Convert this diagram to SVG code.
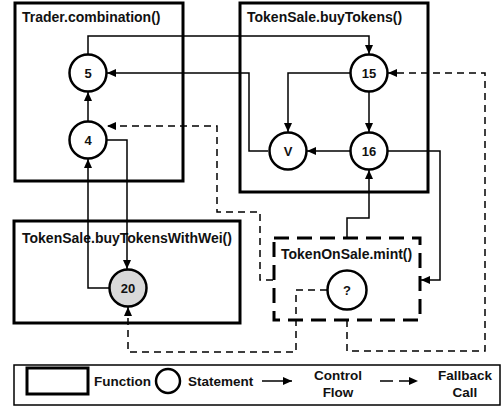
<svg xmlns="http://www.w3.org/2000/svg" width="502" height="408" viewBox="0 0 502 408">
  <defs>
    <marker id="arrow" viewBox="0 0 9 8" refX="9" refY="4" markerWidth="9" markerHeight="8" markerUnits="userSpaceOnUse" orient="auto">
      <path d="M0,0 L9,4 L0,8 Z" fill="#000"/>
    </marker>
    <style>
      .fn { fill: #fff; stroke: #000; stroke-width: 3; }
      .fn-dash { fill: none; stroke: #000; stroke-width: 3; stroke-dasharray: 15 8; }
      .stmt { fill: #fff; stroke: #000; stroke-width: 2.5; }
      .title { font-family: "Liberation Sans", Arial, sans-serif; font-weight: bold; font-size: 14px; fill: #111; }
      .num { font-family: "Liberation Sans", Arial, sans-serif; font-weight: bold; font-size: 13px; fill: #111; text-anchor: middle; dominant-baseline: central; }
      .legend { font-family: "Liberation Sans", Arial, sans-serif; font-weight: bold; font-size: 13.5px; fill: #111; }
      .flow { fill: none; stroke: #000; stroke-width: 1.5; }
      .call { fill: none; stroke: #000; stroke-width: 1.5; stroke-dasharray: 7 5; }
    </style>
  </defs>

  <rect width="502" height="408" fill="#fff"/>

  <!-- function boxes -->
  <g id="fn-combination">
    <rect class="fn" x="15" y="3" width="168" height="178"/>
    <text class="title" x="22" y="22">Trader.combination()</text>
  </g>
  <g id="fn-buyTokens">
    <rect class="fn" x="240" y="3" width="188" height="189"/>
    <text class="title" x="247" y="22">TokenSale.buyTokens()</text>
  </g>
  <g id="fn-buyTokensWithWei">
    <rect class="fn" x="14" y="221" width="226" height="102"/>
    <text class="title" x="22" y="243">TokenSale.buyTokensWithWei()</text>
  </g>
  <g id="fn-mint">
    <rect x="274" y="238" width="146" height="82" fill="#fff"/>
    <rect class="fn-dash" x="274" y="238" width="146" height="82"/>
    <text class="title" x="281" y="259">TokenOnSale.mint()</text>
  </g>

  <!-- connectors -->
  <g id="connectors">
    <!-- control flow -->
    <path class="flow" d="M88,54 V36 H369 V54" marker-end="url(#arrow)"/>
    <path class="flow" d="M88,121 V92" marker-end="url(#arrow)"/>
    <path class="flow" d="M107,140 H127 V269" marker-end="url(#arrow)"/>
    <path class="flow" d="M109,288 H88 V159" marker-end="url(#arrow)"/>
    <path class="flow" d="M268,151 H249 V73 H107" marker-end="url(#arrow)"/>
    <path class="flow" d="M350,73 H288 V132" marker-end="url(#arrow)"/>
    <path class="flow" d="M369,92 V132" marker-end="url(#arrow)"/>
    <path class="flow" d="M350,151 H307" marker-end="url(#arrow)"/>
    <path class="flow" d="M388,151 H440 V280 H421" marker-end="url(#arrow)"/>
    <path class="flow" d="M347,238 V218 H369 V170" marker-end="url(#arrow)"/>
    <!-- fallback calls -->
    <path class="call" d="M273,280 H260 V212 H217 V126 H107" marker-end="url(#arrow)"/>
    <path class="call" d="M347,320 V351 H485 V73 H388" marker-end="url(#arrow)"/>
    <path class="call" d="M327,290 H296 V352 H128 V307" marker-end="url(#arrow)"/>
  </g>

  <!-- statements -->
  <g id="stmt-5">
    <circle class="stmt" cx="88" cy="73" r="18.5"/>
    <text class="num" x="88" y="73">5</text>
  </g>
  <g id="stmt-4">
    <circle class="stmt" cx="88" cy="140" r="18.5"/>
    <text class="num" x="88" y="140">4</text>
  </g>
  <g id="stmt-15">
    <circle class="stmt" cx="369" cy="73" r="18.5"/>
    <text class="num" x="369" y="73">15</text>
  </g>
  <g id="stmt-16">
    <circle class="stmt" cx="369" cy="151" r="18.5"/>
    <text class="num" x="369" y="151">16</text>
  </g>
  <g id="stmt-V">
    <circle class="stmt" cx="288" cy="151" r="18.5"/>
    <text class="num" x="288" y="151">V</text>
  </g>
  <g id="stmt-20">
    <circle class="stmt" cx="128" cy="288" r="18.5" style="fill:#d9d9d9"/>
    <text class="num" x="128" y="288">20</text>
  </g>
  <g id="stmt-unknown">
    <circle class="stmt" cx="347" cy="290" r="19.5"/>
    <text class="num" x="347" y="290">?</text>
  </g>

  <!-- legend -->
  <g id="legend">
    <rect x="14" y="365" width="486" height="40" fill="#fff" stroke="#000" stroke-width="1.5"/>
    <rect x="27" y="368" width="61" height="26" fill="#fff" stroke="#000" stroke-width="3"/>
    <text class="legend" x="94" y="386">Function</text>
    <circle cx="168" cy="381" r="12" fill="#fff" stroke="#000" stroke-width="2.5"/>
    <text class="legend" x="188" y="386">Statement</text>
    <path class="flow" d="M262,381 H292" marker-end="url(#arrow)"/>
    <text class="legend" x="338" y="380" text-anchor="middle">Control</text>
    <text class="legend" x="338" y="397" text-anchor="middle">Flow</text>
    <path class="call" d="M380,381 H418" style="stroke-dasharray:13 6" marker-end="url(#arrow)"/>
    <text class="legend" x="465" y="380" text-anchor="middle">Fallback</text>
    <text class="legend" x="465" y="397" text-anchor="middle">Call</text>
  </g>
</svg>
